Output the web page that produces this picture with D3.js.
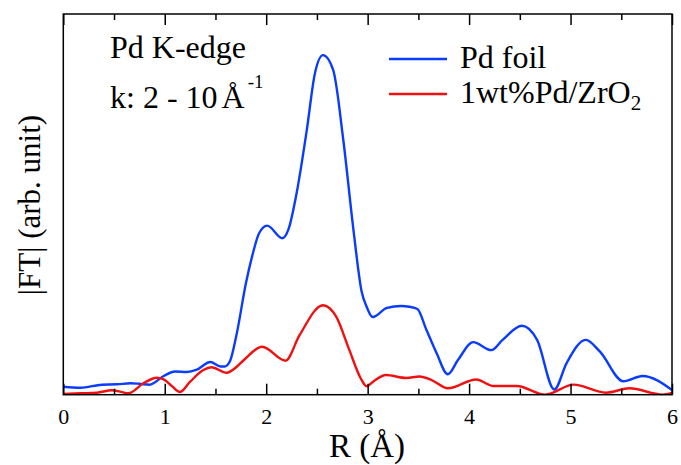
<!DOCTYPE html>
<html><head><meta charset="utf-8">
<script src="https://cdn.jsdelivr.net/npm/d3@7"></script>
<style>
html,body{margin:0;padding:0;background:#fff;}
svg{display:block;}
</style></head>
<body><svg id="chart" width="681" height="465"></svg>
<script>
// ---- data ----
const seriesNames = ["Pd foil", "1wt%Pd/ZrO2"];
const rFoil = [0.00,0.17,0.38,0.53,0.66,0.75,0.85,0.99,1.10,1.22,1.31,1.45,1.55,1.59,1.64,1.71,1.80,1.86,1.93,2.01,2.16,2.22,2.30,2.40,2.48,2.56,2.66,2.76,2.86,2.94,2.99,3.05,3.19,3.33,3.41,3.49,3.58,3.68,3.79,3.89,4.04,4.22,4.33,4.52,4.67,4.84,4.96,5.15,5.29,5.52,5.71,6.00];
const ftFoil = [2.1,1.84,2.63,2.73,3.0,2.86,2.63,4.91,6.09,5.96,6.49,8.59,7.41,7.41,8.67,16.1,29.3,36.2,42.4,44.4,41.1,43.5,53.0,69.5,84.4,89.2,85.3,66.9,43.3,27.2,23.1,20.4,22.8,23.3,23.1,22.5,17.0,10.9,5.36,9.11,13.8,11.7,14.4,18.1,14.4,1.37,8.25,14.4,11.3,3.52,4.91,1.23];
const rZrO2 = [0.00,0.17,0.33,0.48,0.56,0.64,0.79,0.92,0.99,1.07,1.15,1.25,1.38,1.46,1.61,1.71,1.78,1.96,2.19,2.33,2.56,2.69,2.82,2.93,2.99,3.05,3.18,3.38,3.51,3.63,3.79,4.07,4.24,4.47,4.75,5.03,5.35,5.58,5.91,6.00];
const ftZrO2 = [0.18,0.37,0.53,1.16,0.79,0.37,3.0,4.47,4.05,2.29,0.71,3.41,6.49,7.2,5.78,7.35,9.11,12.6,8.93,15.7,23.5,20.5,11.7,4.39,2.21,3.34,5.17,4.39,4.78,3.86,1.68,4.0,2.29,2.29,0.0,2.65,0.53,1.68,0.0,0.45];
const xMajorTicks = [0,1,2,3,4,5,6];
const xMinorTicks = [0.5,1.5,2.5,3.5,4.5,5.5];

// ---- layout ----
const FONT = "Liberation Serif";
const svg = d3.select("#chart");
const L = 63.3, R = 672, T = 14, B = 394.7;
const x = d3.scaleLinear().domain([0,6]).range([L,R]);
const y = d3.scaleLinear().domain([0,100]).range([B,T]);
const colors = ["#0a3cff","#f01010"];

svg.append("defs").append("clipPath").attr("id","clip")
  .append("rect").attr("x",L).attr("y",T).attr("width",R-L).attr("height",B-T);

const line = d3.line().x(d=>x(d[0])).y(d=>y(d[1])).curve(d3.curveMonotoneX);
const foilPts = rFoil.map((r,i)=>[r,ftFoil[i]]);
const zrPts = rZrO2.map((r,i)=>[r,ftZrO2[i]]);
const g = svg.append("g").attr("clip-path","url(#clip)");
g.append("path").datum(foilPts).attr("d",line).attr("fill","none").attr("stroke",colors[0]).attr("stroke-width",2.4);
g.append("path").datum(zrPts).attr("d",line).attr("fill","none").attr("stroke",colors[1]).attr("stroke-width",2.4);

// axes: bottom with labels, top without, ticks inward
const bottomMajor = d3.axisBottom(x).tickValues(xMajorTicks).tickSize(-11).tickPadding(14).tickFormat(d3.format("d"));
const bottomMinor = d3.axisBottom(x).tickValues(xMinorTicks).tickSize(-6).tickFormat("");
const topMajor = d3.axisTop(x).tickValues(xMajorTicks).tickSize(-11).tickFormat("");
const topMinor = d3.axisTop(x).tickValues(xMinorTicks).tickSize(-6).tickFormat("");
function styleAxis(sel){
  sel.select(".domain").remove();
  sel.selectAll(".tick line").attr("stroke","#000").attr("stroke-width",1.5);
  sel.selectAll(".tick text").style("font-family",FONT).style("font-size","22px").attr("fill","#000");
}
svg.append("g").attr("transform",`translate(0,${B})`).call(bottomMajor).call(styleAxis);
svg.append("g").attr("transform",`translate(0,${B})`).call(bottomMinor).call(styleAxis);
svg.append("g").attr("transform",`translate(0,${T})`).call(topMajor).call(styleAxis);
svg.append("g").attr("transform",`translate(0,${T})`).call(topMinor).call(styleAxis);
svg.append("rect").attr("x",L).attr("y",T).attr("width",R-L).attr("height",B-T)
  .attr("fill","none").attr("stroke","#000").attr("stroke-width",1.5);

function txt(xp, yp, size){
  return svg.append("text").attr("x",xp).attr("y",yp).style("font-family",FONT)
    .style("font-size",size+"px").attr("fill","#000");
}
// axis titles
txt(367,457,33).attr("text-anchor","middle").text("R (Å)");
svg.append("text").attr("transform","translate(40,205) rotate(-90)").attr("text-anchor","middle")
  .style("font-family",FONT).style("font-size","31px").attr("fill","#000").text("|FT| (arb. unit)");

// annotations
txt(110,58,32).text("Pd K-edge");
const t2 = txt(110,108,32);
t2.append("tspan").text("k: 2 - 10");
t2.append("tspan").attr("dx",4).text("Å");
t2.append("tspan").attr("dx",3).attr("dy",-20).style("font-size","19px").text("-1");

// legend
const legY = [59,94];
seriesNames.forEach((n,i)=>{
  svg.append("line").attr("x1",389).attr("x2",447).attr("y1",legY[i]).attr("y2",legY[i])
    .attr("stroke",colors[i]).attr("stroke-width",2.4);
});
txt(460,68,32).text(seriesNames[0]);
const lt = txt(460,103,32);
lt.append("tspan").text("1wt%Pd/ZrO");
lt.append("tspan").attr("dy",7).style("font-size","21px").text("2");
</script></body></html>
